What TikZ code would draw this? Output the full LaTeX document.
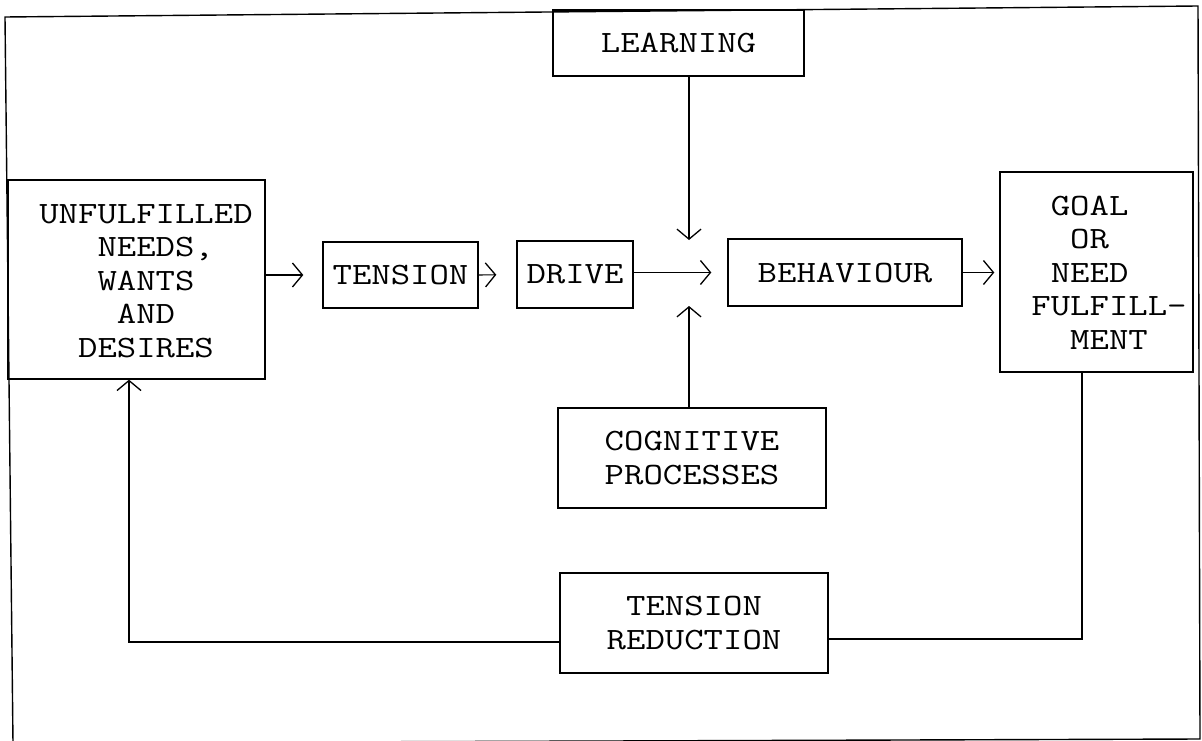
\documentclass[tikz,border=0pt]{standalone}
\usepackage{fontspec}
\usetikzlibrary{arrows.meta}
\newfontfamily\typewriter[FakeStretch=1.215]{Latin Modern Mono}
\newcommand{\lblfont}{\typewriter\fontsize{31}{33.5}\selectfont}
\begin{document}
\begin{tikzpicture}[x=1pt,y=-1pt,
  box/.style={draw, line width=1.4pt, inner sep=0pt, font=\lblfont, align=center},
  lbl/.style={inner sep=0pt, font=\lblfont, align=left},
  link/.style={line width=1.1pt},
  arr/.style={link, -{Straight Barb[length=10pt,width=24pt,line width=1.3pt]}}]
\useasboundingbox (0,0) rectangle (1202,741);

% outer frame
\draw[line width=1.4pt] (5,17) -- (1198,6) -- (1200,739) -- (13,743) -- cycle;

% boxes
\node[box, minimum width=257pt, minimum height=199pt] (unf) at (136.5,279.5) {};
\node[lbl] (unf-t) at (146,281)
  {UNFULFILLED\\\phantom{XXX}NEEDS,\\\phantom{XXX}WANTS\\\phantom{XXXX}AND\\\phantom{XX}DESIRES};
\node[box, minimum width=155pt, minimum height=66pt] (tension) at (400.5,275) {TENSION};
\node[box, minimum width=116pt, minimum height=67pt] (drive) at (575,274.5) {DRIVE};
\node[box, minimum width=251pt, minimum height=66pt] (learning) at (678.5,43) {LEARNING};
\node[box, minimum width=234pt, minimum height=67pt] (behaviour) at (845,272.5) {BEHAVIOUR};
\node[box, minimum width=193pt, minimum height=200pt] (goal) at (1096.5,272) {};
\node[lbl] (goal-t) at (1109,272.5)
  {\phantom{X}GOAL\\\phantom{XX}OR\\\phantom{X}NEED\\FULFILL-\\\phantom{XX}MENT};
\node[box, minimum width=268pt, minimum height=100pt] (cognitive) at (692,458) {COGNITIVE\\PROCESSES};
\node[box, minimum width=268pt, minimum height=100pt] (reduction) at (694,623) {TENSION\\REDUCTION};

% junction points of the connectors
\coordinate (jn) at (689,272);
\coordinate (fb) at (1082,639);
\coordinate (back) at (129,642);

% main chain
\draw[arr, shorten >=19pt] (unf.east |- tension.west) -- (tension.west);
\draw[arr, shorten >=20pt] (tension.east) -- (drive.west);
\draw[arr, shorten >=16pt] (drive.east |- behaviour.west) -- (behaviour.west);
\draw[arr, shorten >=5pt] (behaviour.east) -- (goal.west |- behaviour.east);

% influences on behaviour
\draw[arr, shorten >=32pt] (learning.south -| jn) -- (jn);
\draw[arr, shorten >=34pt] (cognitive.north -| jn) -- (jn);

% feedback loop
\draw[link] (goal.south -| fb) -- (fb) -- (reduction.east |- fb);
\draw[arr] (reduction.west |- back) -- (back) -- (unf.south -| back);
\end{tikzpicture}
\end{document}
